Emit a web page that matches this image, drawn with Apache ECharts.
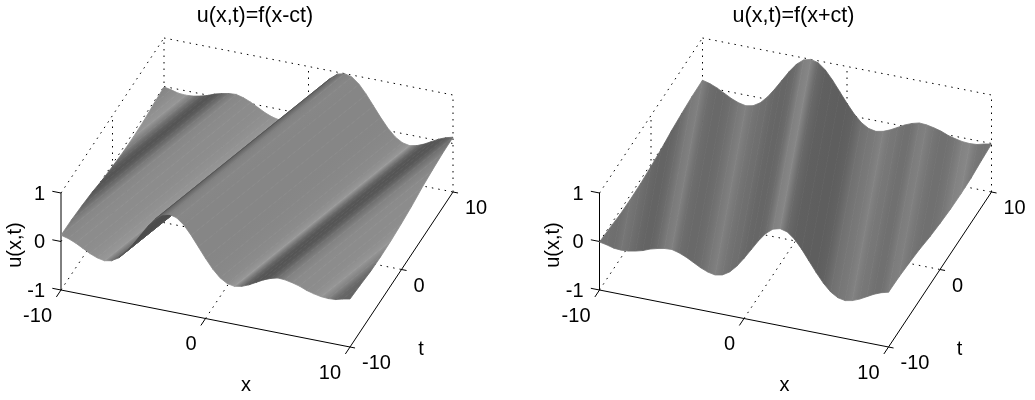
<!DOCTYPE html>
<html>
<head>
<meta charset="utf-8">
<style>html,body{margin:0;padding:0;background:#fff}#chart{width:1035px;height:400px}</style>
<script src="https://cdn.jsdelivr.net/npm/echarts@6/dist/echarts.min.js"></script>
</head>
<body>
<div id="chart"></div>
<script>
// ---- data ----
const profileS = [-12.5,-12,-11.5,-11,-10.5,-10,-9.5,-9,-8.5,-8,-7.5,-7,-6.5,-6,-5.5,-5,-4.5,-4,-3.5,-3,-2.5,-2,-1.5,-1,-0.5,0,0.5,1,1.5,2,2.5,3,3.5,4,4.5,5,5.5,6,6.5,7,7.5,8,8.5,9,9.5,10,10.5,11,11.5,12,12.5];
const profileU = [-0.01,-0.04,-0.08,-0.09,-0.08,-0.05,-0.01,0.05,0.09,0.12,0.13,0.09,0.03,-0.05,-0.13,-0.19,-0.22,-0.19,-0.10,0.05,0.24,0.45,0.66,0.84,0.96,1.00,0.96,0.84,0.66,0.45,0.24,0.05,-0.10,-0.19,-0.22,-0.19,-0.13,-0.05,0.03,0.09,0.13,0.12,0.09,0.05,-0.01,-0.05,-0.08,-0.09,-0.08,-0.04,-0.01];
const grayLeft = [132,138,145,150,125,100,85,85,100,120,135,138,140,140,142,146,152,115,90,80,75,75,78,85,105,130,135,134,134,134,134,135,137,140,152,110,90,85,85,90,110,130,138,140,140,142,150,130,105,100,100];
const grayRight = [115,112,110,118,112,105,100,100,108,122,128,110,105,105,110,120,128,118,112,110,104,102,102,108,128,134,105,96,95,94,94,98,112,118,122,130,120,118,112,112,124,128,118,112,112,118,130,135,120,115,118];
const xTicks = [-10,0,10];
const tTicks = [-10,0,10];
const uTicks = [-1,0,1];
const waveSpeed = 0.25;
const titles = ['u(x,t)=f(x-ct)','u(x,t)=f(x+ct)'];

// ---- view of the 3-D box ----
const project = (x,t,u) => [14.45*x + 5.15*t, -2.85*x + 7.75*t + 48.5*u];
const LABEL_FONT = '20px "Liberation Sans", Arial, sans-serif';
const panels = [
  {centerX:257, sign:-1, gray:grayLeft, title:titles[0], titleX:255},
  {centerX:795.5, sign:1, gray:grayRight, title:titles[1], titleX:793.5}
];

const dotted = [
  [-10,-10,1,-10,10,1],[-10,10,1,10,10,1],
  [-10,-10,0,-10,10,0],[-10,10,0,10,10,0],
  [-10,-10,-1,-10,10,-1],[-10,10,-1,10,10,-1],
  [-10,10,-1,-10,10,1],[10,10,-1,10,10,1],
  [0,10,-1,0,10,1],[-10,0,-1,-10,0,1],
  [0,-10,-1,0,10,-1],[-10,0,-1,10,0,-1]
];
const solid = [
  [-10,-10,-1,10,-10,-1],[10,-10,-1,10,10,-1],[-10,-10,-1,-10,-10,1]
];
xTicks.forEach(x => solid.push([x,-10,-1,x,-10.9,-1]));
tTicks.forEach(t => solid.push([10,t,-1,10.35,t,-1]));
uTicks.forEach(u => solid.push([-10,-10,u,-10.6,-10,u]));

const texts = [];
xTicks.forEach(v => texts.push({text:String(v),p:[v,-10,-1],dx:-9,dy:26,align:'right'}));
tTicks.forEach(v => texts.push({text:String(v),p:[10,v,-1],dx:12,dy:16.5,align:'left'}));
uTicks.forEach(v => texts.push({text:String(v),p:[-10,-10,v],dx:-16,dy:1,align:'right'}));
texts.push({text:'x',p:[0,-10,-1],dx:40.5,dy:67,align:'center'});
texts.push({text:'t',p:[10,0,-1],dx:19.5,dy:79.5,align:'center'});
texts.push({text:'u(x,t)',p:[-10,-10,0],dx:-46,dy:3.5,align:'center',rot:Math.PI/2});

function edgeEnds(s, k){
  const t1 = (-10 - s)/k, t2 = (10 - s)/k;
  const lo = Math.max(-10, Math.min(t1,t2)), hi = Math.min(10, Math.max(t1,t2));
  return [[s + k*lo, lo], [s + k*hi, hi]];
}
function g(v){ v = Math.round(v); return 'rgb('+v+','+v+','+v+')'; }

const grid = [], xAxis = [], yAxis = [], series = [], title = [];
panels.forEach((p, idx) => {
  grid.push({left:p.centerX-210, top:22.5, width:420, height:340});
  xAxis.push({type:'value', gridIndex:idx, min:-210, max:210, show:false});
  yAxis.push({type:'value', gridIndex:idx, min:-170, max:170, show:false});
  title.push({text:p.title, left:p.titleX, top:5, padding:0, textAlign:'center',
    textStyle:{fontFamily:'"Liberation Sans", Arial, sans-serif', fontSize:21.5, fontWeight:'normal', color:'#000'}});
  const base = {type:'custom', coordinateSystem:'cartesian2d', xAxisIndex:idx, yAxisIndex:idx,
    clip:false, silent:true, animation:false};
  const seg = (api, e) => {
    const a = api.coord(project(e[0],e[1],e[2])), b = api.coord(project(e[3],e[4],e[5]));
    return {x1:a[0],y1:a[1],x2:b[0],y2:b[1]};
  };
  series.push(Object.assign({}, base, {
    z:2, data:dotted.map((e,i)=>[i]),
    renderItem:(params,api)=>({type:'line', shape:seg(api,dotted[params.dataIndex]),
      style:{stroke:'#000', lineWidth:1, lineDash:[1.5,5], fill:null}})
  }));
  series.push(Object.assign({}, base, {
    z:3, data:solid.map((e,i)=>[i]),
    renderItem:(params,api)=>({type:'line', shape:seg(api,solid[params.dataIndex]),
      style:{stroke:'#000', lineWidth:1, fill:null}})
  }));
  const k = waveSpeed * (p.sign < 0 ? 1 : -1);
  series.push(Object.assign({}, base, {
    z:4, data:profileS.slice(0,-1).map((s,i)=>[i]),
    renderItem:(params,api)=>{
      const i = params.dataIndex;
      const e0 = edgeEnds(profileS[i],k), e1 = edgeEnds(profileS[i+1],k);
      const P = (q,u)=>api.coord(project(q[0],q[1],u));
      const a0=P(e0[0],profileU[i]), a1=P(e0[1],profileU[i]);
      const b0=P(e1[0],profileU[i+1]), b1=P(e1[1],profileU[i+1]);
      const g0=p.gray[i], g1=p.gray[i+1];
      const ref=[b1[0]-b0[0], b1[1]-b0[1]], ref2=[a1[0]-a0[0], a1[1]-a0[1]];
      const use=(Math.hypot(ref[0],ref[1])>Math.hypot(ref2[0],ref2[1]))?ref:ref2;
      const len=Math.hypot(use[0],use[1])||1;
      const n=[-use[1]/len, use[0]/len];
      const delta=(b0[0]-a0[0])*n[0]+(b0[1]-a0[1])*n[1];
      const fill=Math.abs(delta)<0.05 ? g((g0+g1)/2) :
        new echarts.graphic.LinearGradient(a0[0],a0[1],a0[0]+n[0]*delta,a0[1]+n[1]*delta,
          [{offset:0,color:g(g0)},{offset:1,color:g(g1)}],true);
      return {type:'polygon', shape:{points:[a0,a1,b1,b0]},
        style:{fill:fill, stroke:fill, lineWidth:0.8}};
    }
  }));
  series.push(Object.assign({}, base, {
    z:5, data:texts.map((e,i)=>[i]),
    renderItem:(params,api)=>{
      const d=texts[params.dataIndex];
      const c=api.coord(project(d.p[0],d.p[1],d.p[2]));
      return {type:'text', x:c[0]+d.dx, y:c[1]+d.dy, rotation:d.rot||0,
        style:{text:d.text, font:LABEL_FONT, fill:'#000', align:d.align, verticalAlign:'middle'}};
    }
  }));
});

const chart = echarts.init(document.getElementById('chart'), null, {renderer:'canvas'});
chart.setOption({animation:false, backgroundColor:'#fff', title, grid, xAxis, yAxis, series, tooltip:{show:false}, legend:{show:false}});
</script>
</body>
</html>
